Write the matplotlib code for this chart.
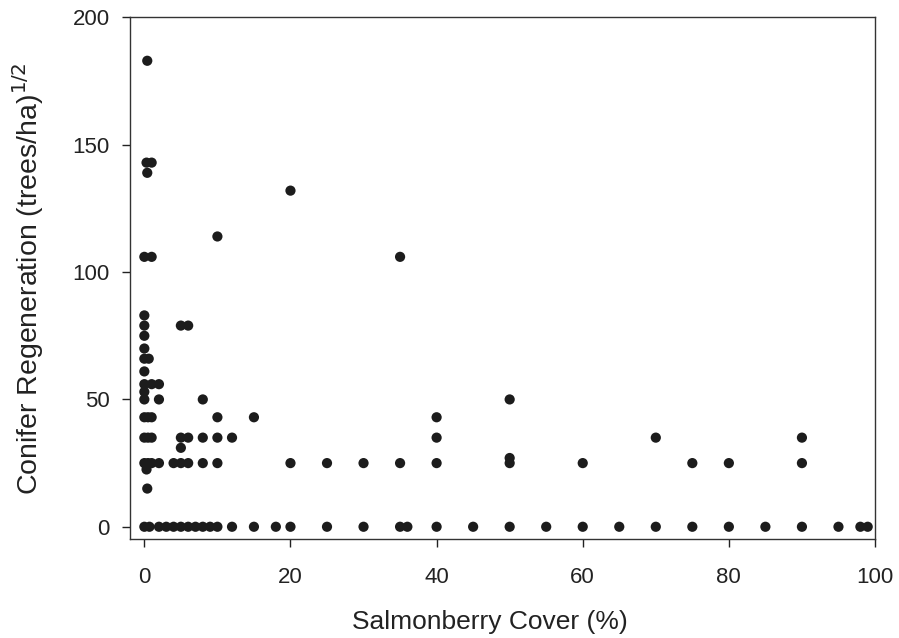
import numpy as np
import matplotlib
matplotlib.use("Agg")
import matplotlib.pyplot as plt

plt.rcParams['font.family'] = ['Liberation Sans', 'DejaVu Sans']

# salmonberry cover (%) and conifer regeneration (sqrt trees/ha)
cover_zero = [0, 0.7, 2, 3, 4, 5, 6, 7, 8, 9, 10, 12, 15, 18, 20, 25, 30, 35, 36,
              40, 45, 50, 55, 60, 65, 70, 75, 80, 85, 90, 95, 98, 99]
regen_zero = [0] * len(cover_zero)

cover_pos = [0.4, 0.3, 1.0, 0.4, 20, 10, 0, 1, 35,
             0, 0, 0, 0, 0, 0.6, 0, 0, 1, 0, 0,
             5, 6, 2, 2, 8,
             0, 0.5, 1, 10, 15, 40,
             0, 0.5, 1, 5, 6, 8, 10, 12, 40, 70, 90,
             5,
             0, 0.5, 1, 2, 4, 5, 6, 8, 10, 20, 25, 30, 35, 40, 50, 60, 75, 80, 90,
             0.3, 0.4,
             50, 50]
regen_pos = [183, 143, 143, 139, 132, 114, 106, 106, 106,
             83, 79, 75, 70, 66, 66, 61, 56, 56, 53, 50,
             79, 79, 56, 50, 50,
             43, 43, 43, 43, 43, 43,
             35, 35, 35, 35, 35, 35, 35, 35, 35, 35, 35,
             31,
             25, 25, 25, 25, 25, 25, 25, 25, 25, 25, 25, 25, 25, 25, 25, 25, 25, 25, 25,
             22.5, 15,
             50, 27]

cover = np.array(cover_zero + cover_pos)
regen = np.array(regen_zero + regen_pos)

fig = plt.figure(figsize=(8.99, 6.38), dpi=100)
ax = fig.add_axes([0.1443, 0.1544, 0.829, 0.8182])

ax.scatter(cover, regen, s=54, color='#1c1c1c', edgecolors='none', zorder=3)

ax.set_xlim(-2, 100)
ax.set_ylim(-5, 200)
ax.set_xticks([0, 20, 40, 60, 80, 100])
ax.set_yticks([0, 50, 100, 150, 200])
ax.tick_params(direction='out', length=5.5, width=1, labelsize=16, colors='#222222')
ax.tick_params(axis='x', pad=14)
ax.tick_params(axis='y', pad=9)

for side in ['left', 'bottom', 'top', 'right']:
    ax.spines[side].set_linewidth(1)
    ax.spines[side].set_color('#333333')

ax.set_xlabel('Salmonberry Cover (%)', fontsize=19, color='#222222')
ax.xaxis.set_label_coords(0.483, -0.135)
ax.set_ylabel('Conifer Regeneration (trees/ha)$^{1/2}$', fontsize=20.5, color='#222222')
ax.yaxis.set_label_coords(-0.112, 0.5)

fig.savefig('out.png', dpi=100)
